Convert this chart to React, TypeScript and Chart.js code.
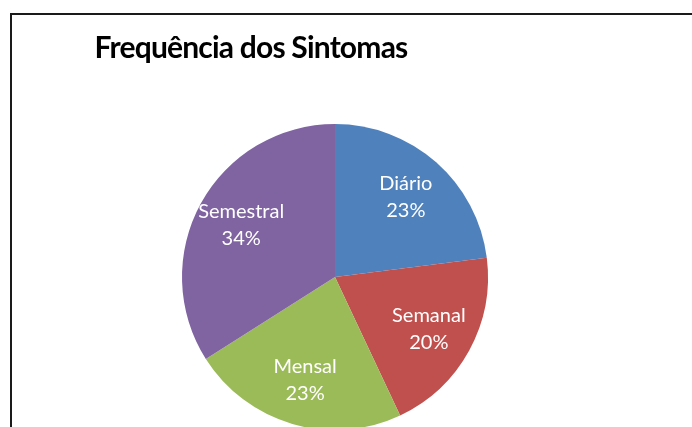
import React, { useEffect, useRef } from "react";
import { Chart, registerables } from "chart.js";

Chart.register(...registerables);

const TITLE = "Frequência dos Sintomas";
const categories = ["Diário", "Semanal", "Mensal", "Semestral"];
const percentages = [23, 20, 23, 34];
const sliceColors = ["#4F81BD", "#C0504D", "#9BBB59", "#8064A2"];

const LABEL_FONT = '20px Lato, "Open Sans", sans-serif';

const sliceLabelPlugin = {
  id: "sliceLabels",
  afterDatasetsDraw(chart: any) {
    const ctx = chart.ctx;
    const meta = chart.getDatasetMeta(0);
    ctx.save();
    ctx.fillStyle = "#ffffff";
    ctx.font = LABEL_FONT;
    ctx.textAlign = "center";
    ctx.textBaseline = "middle";
    meta.data.forEach((arc: any, i: number) => {
      const p = arc.getProps(["x", "y", "startAngle", "endAngle", "outerRadius"], true);
      const mid = (p.startAngle + p.endAngle) / 2;
      const r = p.outerRadius * 0.7;
      const cx = p.x + Math.cos(mid) * r;
      const cy = p.y + Math.sin(mid) * r;
      ctx.fillText(categories[i], cx, cy - 13.5);
      ctx.fillText(percentages[i] + "%", cx, cy + 13.5);
    });
    ctx.restore();
  },
};

export default function App() {
  const canvasRef = useRef<HTMLCanvasElement | null>(null);

  useEffect(() => {
    document.body.style.margin = "0";
    document.body.style.overflow = "hidden";
    const canvas = canvasRef.current;
    if (!canvas) return;
    const chart = new Chart(canvas, {
      type: "pie",
      data: {
        labels: categories,
        datasets: [
          {
            data: percentages,
            backgroundColor: sliceColors,
            borderWidth: 0,
          },
        ],
      },
      options: {
        animation: false,
        responsive: false,
        maintainAspectRatio: false,
        layout: { padding: { left: 182, right: 204, top: 124, bottom: 10 } },
        plugins: {
          legend: { display: false },
          tooltip: { enabled: false },
          title: { display: false },
        },
      },
      plugins: [sliceLabelPlugin],
    });
    return () => chart.destroy();
  }, []);

  return (
    <div style={{ position: "relative", width: 692, height: 427, overflow: "hidden", background: "#fff" }}>
      <canvas
        ref={canvasRef}
        width={692}
        height={440}
        style={{ position: "absolute", left: 0, top: 0, width: 692, height: 440 }}
      />
      <div
        style={{
          position: "absolute",
          left: 10,
          top: 13,
          right: 0,
          bottom: 0,
          borderLeft: "2px solid #1a1a1a",
          borderTop: "2px solid #1a1a1a",
          pointerEvents: "none",
        }}
      />
      <div
        style={{
          position: "absolute",
          left: 251,
          top: 31,
          transform: "translateX(-50%)",
          whiteSpace: "nowrap",
          font: 'bold 30px Lato, "Open Sans", sans-serif',
          lineHeight: "30px",
          letterSpacing: "-0.8px",
          color: "#000",
        }}
      >
        {TITLE}
      </div>
    </div>
  );
}
